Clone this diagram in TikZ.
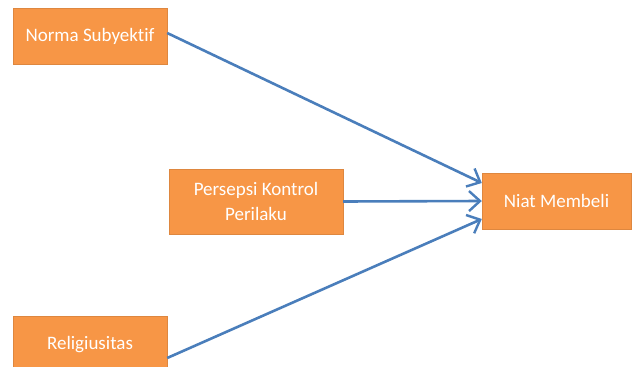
\documentclass[tikz,border=0pt]{standalone}
\usepackage{fontspec}
\setmainfont[Ligatures={NoCommon}]{Carlito}
\usetikzlibrary{arrows.meta}
\definecolor{boxorange}{HTML}{F79646}
\definecolor{arrowblue}{HTML}{4A7EBB}
\tikzset{
  obox/.style={fill=boxorange, draw=boxorange!90!black, line width=0.4pt, text=white, align=center,
    inner sep=0pt, font=\fontsize{19}{25}\selectfont},
  link/.style={draw=arrowblue, line width=2.6pt, -{Straight Barb[length=11pt,width=20pt,line width=2.4pt]}}
}
\begin{document}
\begin{tikzpicture}[x=1pt,y=-1pt]
\useasboundingbox (0,0) rectangle (638,367);
\clip (0,0) rectangle (638,367);
\node[obox, minimum width=154pt, minimum height=56pt] (ns) at (90,36) {Norma Subyektif};
\node[obox, minimum width=174pt, minimum height=65pt] (pk) at (256,201.5) {Persepsi Kontrol\\Perilaku};
\node[obox, minimum width=154pt, minimum height=60pt] (rl) at (90,346) {};
\node[text=white, font=\fontsize{19}{25}\selectfont] (rlt) at (90,345) {Religiusitas};
\node[obox, minimum width=149pt, minimum height=56pt] (nm) at (556.5,201) {Niat Membeli};
\draw[link] ([yshift=3pt]ns.east) -- ([yshift=18pt]nm.west);
\draw[link] (pk.east) -- (nm.west);
\draw[link] ([yshift=-12pt]rl.east) -- ([yshift=-18pt]nm.west);
\end{tikzpicture}
\end{document}
